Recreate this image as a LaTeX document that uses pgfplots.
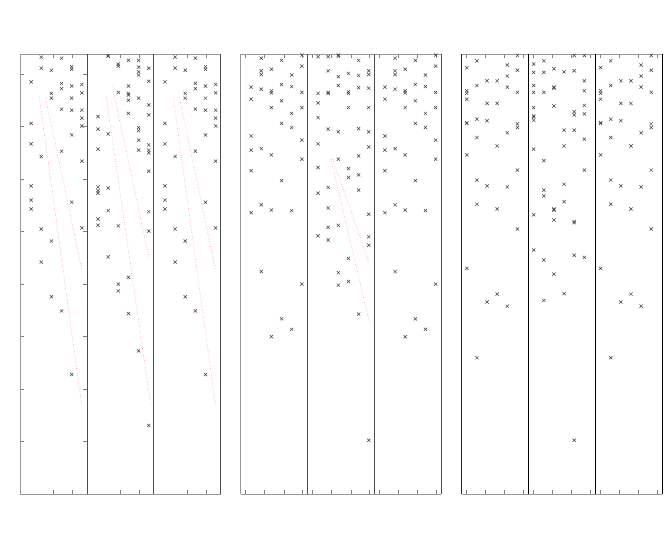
\documentclass[border=0pt]{standalone}
\usepackage{pgfplots}
\pgfplotsset{compat=1.18}
\pgfplotsset{
  panel/.style={scale only axis, width=66.9pt, height=440.3pt, anchor=south west,
    ymin=0, ymax=8.38, clip=false, xticklabels={}, yticklabels={}, ytick=\empty,
    tick align=inside, major tick length=4pt, tick style={gray, line width=0.6pt},
    separate axis lines, x axis line style={gray!80, line width=0.8pt},
    y axis line style={black!70, line width=0.8pt}},
  pts/.style={only marks, mark=x, mark size=2.3pt, black!75, mark options={line width=0.5pt}},
  fit/.style={red!70, dotted, line width=0.45pt, no marks},
  gone/.style={panel, xmin=-0.1, xmax=6.5, xtick={3.18,5.10}},
  gtwo/.style={panel, xmin=-0.03, xmax=6.57, xtick={0.46,2.34,4.24,6.08}},
  gthree/.style={panel, xmin=0.5, xmax=7.1, xtick={1,2.87,4.74,6.61}},
}
\newcommand{\GoneA}{(2,8.32)(4,8.30)(2,8.11)(3,8.07)(5,8.14)(5,8.09)(1,7.85)(4,7.82)(4,7.72)(5,7.77)(6,7.80)(6,7.64)(3,7.63)(3,7.54)(5,7.54)(4,7.33)(5,7.31)(6,7.31)(6,7.16)(6,7.01)(1,7.06)(5,6.84)(1,6.67)(4,6.53)(2,6.43)(6,6.34)(1,5.87)(1,5.60)(5,5.56)(1,5.43)(2,5.05)(6,5.07)(3,4.82)(2,4.42)(3,3.76)(4,3.49)(5,2.28)}
\newcommand{\GtwoA}{(2,8.30)(4,8.26)(6,8.36)(6,8.15)(2,8.06)(2,7.99)(3,8.09)(5,7.98)(1,7.75)(2,7.71)(3,7.68)(3,7.64)(4,7.80)(5,7.76)(6,7.65)(1,7.52)(4,7.49)(3,7.36)(6,7.36)(5,7.25)(4,7.06)(5,6.98)(1,6.82)(6,6.74)(1,6.55)(2,6.58)(3,6.46)(6,6.38)(1,6.16)(4,5.97)(1,5.36)(2,5.51)(3,5.41)(5,5.40)(2,4.24)(6,4.00)(4,3.34)(5,3.14)(3,3.00)}
\newcommand{\GthreeA}{(2,8.25)(1,8.12)(5,8.17)(6,8.07)(6,8.35)(3,7.87)(4,7.87)(5,7.96)(2,7.78)(5,7.75)(6,7.65)(1,7.68)(1,7.63)(1,7.52)(3,7.44)(4,7.44)(2,7.14)(3,7.11)(1,7.07)(1,7.06)(6,7.05)(6,6.98)(5,6.88)(2,6.79)(4,6.63)(1,6.46)(6,6.17)(2,5.98)(3,5.87)(5,5.85)(2,5.52)(4,5.43)(6,5.05)(1,4.30)(4,3.81)(3,3.66)(5,3.58)(2,2.60)}
\begin{document}
\begin{tikzpicture}
\path[use as bounding box] (0,0) rectangle (668pt,550pt);
% ---------- group 1 ----------
\begin{axis}[gone, at={(20pt,55.7pt)}, ytick={1,2,...,8}, y axis line style={gray!80}]
\addplot[pts] coordinates {\GoneA};
\addplot[fit] coordinates {(1.80,7.57)(5.98,1.70)};
\addplot[fit] coordinates {(2.43,7.55)(5.98,4.28)};
\end{axis}
\begin{axis}[gone, at={(86.9pt,55.7pt)}]
\addplot[pts] coordinates {(2,8.35)(2,8.34)(3,8.19)(3,8.15)(4,8.26)(5,8.26)(5,8.13)(5,8.04)(5,7.98)(6,8.11)(6,7.86)(4,7.77)(3,7.65)(4,7.63)(4,7.60)(4,7.50)(5,7.54)(6,7.41)(6,7.22)(4,7.25)(1,7.19)(1,6.95)(2,6.86)(5,6.98)(5,6.92)(5,6.74)(1,6.57)(5,6.55)(6,6.65)(6,6.55)(6,6.50)(6,6.15)(1,5.85)(1,5.78)(1,5.73)(2,5.83)(2,5.40)(6,5.38)(1,5.24)(1,5.12)(3,5.11)(6,5.01)(2,4.52)(4,4.13)(3,4.00)(3,3.87)(4,3.44)(5,2.73)(6,1.31)};
\addplot[fit] coordinates {(1.80,7.58)(6.21,1.68)};
\addplot[fit] coordinates {(2.42,7.76)(6.04,4.49)};
\end{axis}
\begin{axis}[gone, at={(153.8pt,55.7pt)}]
\addplot[pts] coordinates {\GoneA};
\addplot[fit] coordinates {(1.80,7.57)(5.98,1.70)};
\addplot[fit] coordinates {(2.43,7.55)(5.98,4.28)};
\end{axis}
% ---------- group 2 ----------
\begin{axis}[gtwo, at={(240.7pt,55.7pt)}, y axis line style={gray!80}]
\addplot[pts] coordinates {\GtwoA};
\end{axis}
\begin{axis}[gtwo, at={(307.6pt,55.7pt)}]
\addplot[pts] coordinates {(1,8.33)(2,8.33)(3,8.36)(3,8.34)(5,8.26)(2,8.06)(3,7.95)(4,8.01)(5,7.97)(6,8.06)(6,7.99)(3,7.78)(5,7.74)(6,7.73)(1,7.63)(2,7.65)(2,7.63)(4,7.66)(4,7.63)(1,7.45)(4,7.36)(6,7.36)(1,7.17)(2,6.95)(3,6.90)(5,6.96)(6,6.90)(1,6.67)(6,6.61)(3,6.38)(5,6.44)(1,6.22)(4,6.20)(4,6.03)(5,6.08)(2,5.84)(5,5.79)(1,5.73)(2,5.45)(6,5.33)(2,5.08)(3,5.12)(1,4.92)(2,4.84)(6,4.90)(6,4.74)(4,4.49)(3,4.22)(3,3.98)(4,4.05)(5,3.43)(6,1.03)};
\addplot[fit] coordinates {(2.27,6.38)(6.05,3.28)};
\addplot[fit] coordinates {(2.44,6.38)(6.05,4.40)};
\end{axis}
\begin{axis}[gtwo, at={(374.5pt,55.7pt)}]
\addplot[pts] coordinates {\GtwoA};
\end{axis}
% ---------- group 3 ----------
\begin{axis}[gthree, at={(461.7pt,55.7pt)}, y axis line style={black!85}]
\addplot[pts] coordinates {\GthreeA};
\end{axis}
\begin{axis}[gthree, at={(528.6pt,55.7pt)}, y axis line style={black}]
\addplot[pts] coordinates {(2,8.25)(5,8.35)(6,8.35)(1,8.19)(1,8.03)(2,8.03)(3,8.10)(4,8.04)(5,8.06)(6,7.87)(1,7.78)(1,7.65)(2,7.65)(3,7.75)(3,7.73)(6,7.68)(1,7.36)(1,7.20)(1,7.18)(1,7.12)(3,7.39)(5,7.28)(5,7.22)(6,7.40)(6,7.24)(4,6.93)(5,6.93)(6,6.76)(4,6.63)(1,6.57)(2,6.35)(6,6.17)(4,5.90)(2,5.79)(2,5.68)(4,5.57)(1,5.32)(3,5.43)(3,5.41)(3,5.22)(5,5.19)(5,5.17)(1,4.65)(2,4.46)(3,4.19)(5,4.55)(6,4.51)(2,3.69)(4,3.82)(5,1.03)};
\end{axis}
\begin{axis}[gthree, at={(595.5pt,55.7pt)}, y axis line style={black}]
\addplot[pts] coordinates {\GthreeA};
\end{axis}
\end{tikzpicture}
\end{document}
